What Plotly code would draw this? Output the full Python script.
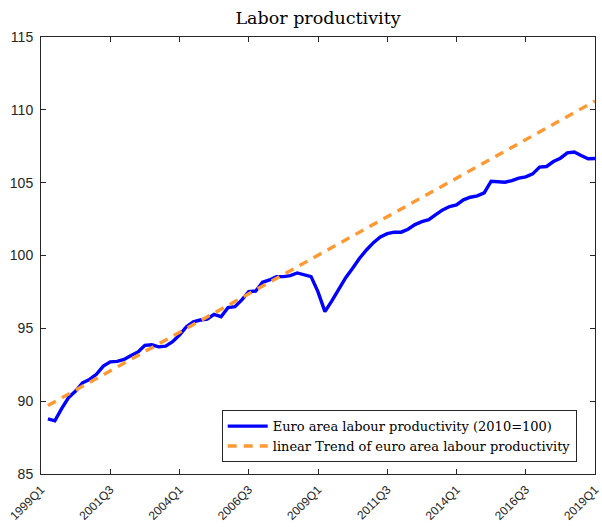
import plotly.graph_objects as go

# Quarter labels from 1999Q1 to 2019Q1
years = list(range(1999, 2020))
quarters = [f"{y}Q{q}" for y in years for q in range(1, 5)][:81]

tick_labels = ["1999Q1", "2001Q3", "2004Q1", "2006Q3", "2009Q1",
               "2011Q3", "2014Q1", "2016Q3", "2019Q1"]

# Euro area labour productivity (2010=100)
productivity = [
    88.79, 88.65, 89.50, 90.26, 90.69, 91.26, 91.49, 91.84, 92.41, 92.70,
    92.73, 92.87, 93.14, 93.37, 93.83, 93.87, 93.73, 93.78, 94.08, 94.54,
    95.11, 95.45, 95.57, 95.64, 95.96, 95.80, 96.42, 96.49, 96.95, 97.52,
    97.56, 98.16, 98.32, 98.55, 98.55, 98.62, 98.80, 98.66, 98.55, 97.50,
    96.15, 96.88, 97.70, 98.48, 99.12, 99.81, 100.38, 100.88, 101.27, 101.50,
    101.60, 101.60, 101.80, 102.12, 102.32, 102.46, 102.80, 103.13, 103.36, 103.47,
    103.82, 104.00, 104.09, 104.30, 105.10, 105.08, 105.03, 105.14, 105.31, 105.40,
    105.60, 106.07, 106.11, 106.45, 106.68, 107.05, 107.10, 106.86, 106.64, 106.66,
]
prod_quarters = quarters[1:81]

# Linear trend (endpoints)
trend_quarters = [quarters[1], quarters[80]]
trend_values = [89.70, 110.60]

fig = go.Figure()
fig.add_trace(go.Scatter(
    x=prod_quarters, y=productivity, mode="lines",
    line=dict(color="#0000FF", width=3.4),
    name="Euro area labour productivity (2010=100)",
))
fig.add_trace(go.Scatter(
    x=trend_quarters, y=trend_values, mode="lines",
    line=dict(color="#FF9933", width=3.4, dash="9px,7px"),
    name="linear Trend of euro area labour productivity",
))

axis_color = "#262626"
fig.update_layout(
    width=602, height=527,
    margin=dict(l=41, r=7, t=37, b=53, autoexpand=False),
    paper_bgcolor="white", plot_bgcolor="white",
    title=dict(text="Labor productivity", x=318 / 602, xanchor="center",
               xref="container", yref="container",
               y=1 - 18 / 527, yanchor="middle",
               font=dict(family="DejaVu Serif", size=17.5, color="black")),
    showlegend=True,
    legend=dict(x=0.967, xanchor="right", y=0.027, yanchor="bottom",
                bgcolor="white", bordercolor=axis_color, borderwidth=1,
                font=dict(family="DejaVu Serif", size=13, color="black"),
                tracegroupgap=0, itemwidth=40),
    xaxis=dict(type="category", categoryorder="array", categoryarray=quarters,
               range=[0, 80], tickmode="array", tickvals=tick_labels,
               ticktext=tick_labels, tickangle=-45, automargin=False,
               ticks="inside", ticklen=5, tickcolor=axis_color,
               ticklabelstandoff=3,
               showline=True, linecolor=axis_color, linewidth=1, mirror="ticks",
               showgrid=False, zeroline=False,
               tickfont=dict(family="Liberation Sans", size=12, color=axis_color)),
    yaxis=dict(range=[85, 115], tickmode="array",
               tickvals=[85, 90, 95, 100, 105, 110, 115], automargin=False,
               ticks="inside", ticklen=5, tickcolor=axis_color,
               ticklabelstandoff=4,
               showline=True, linecolor=axis_color, linewidth=1, mirror="ticks",
               showgrid=False, zeroline=False,
               tickfont=dict(family="Liberation Sans", size=14, color=axis_color)),
)

fig.write_html("out.html",
               config={"displayModeBar": False},
               post_script="document.body.style.margin='0';")
